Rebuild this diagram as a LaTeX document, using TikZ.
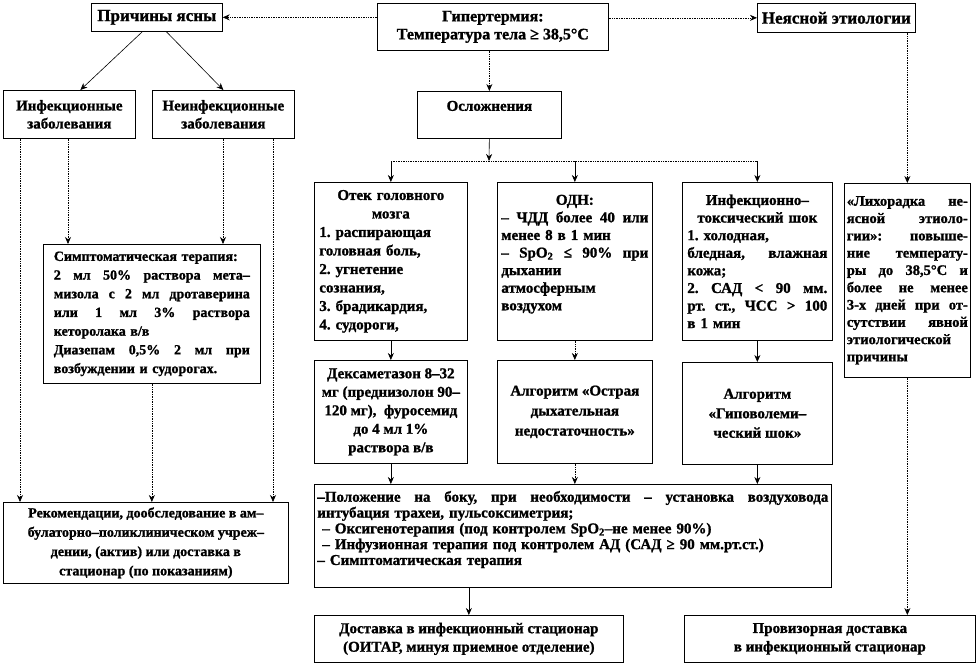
\documentclass[tikz,border=0pt]{standalone}
\usepackage{fontspec}
\setmainfont{Liberation Serif}[BoldFont={Liberation Serif Bold},BoldFeatures={FakeBold=1.2}]
\usetikzlibrary{arrows.meta,calc}
\newcommand{\jl}[1]{\leavevmode\hbox to \linewidth{\spaceskip=.25em plus 1fil minus .08em\relax #1}}
\newcommand{\cl}[1]{\makebox[\linewidth]{#1}}
\frenchspacing
\begin{document}
\begin{tikzpicture}[x=1pt,y=-1pt,
 box/.style={draw,line width=0.7pt,anchor=north west,inner sep=0pt,align=center,
   font=\bfseries\fontsize{15}{18.5}\selectfont},
 dotl/.style={line width=0.7pt,densely dotted},
 sol/.style={line width=0.6pt},
 arr/.style={-{Stealth[length=7pt,width=6pt]}}
]
\useasboundingbox (0,0) rectangle (977,667);

\node[box,minimum width=231,minimum height=47,font=\bfseries\fontsize{16}{18}\selectfont] (hyp) at (377,3) {Гипертермия:\\Температура тела ≥ 38,5°C};
\node[box,minimum width=131,minimum height=28,font=\bfseries\fontsize{17}{18}\selectfont] (clear) at (91,3) {Причины ясны};
\node[box,minimum width=158,minimum height=29,font=\bfseries\fontsize{17}{18}\selectfont] (unclear) at (757,3) {Неясной этиологии};
\node[box,minimum width=132,minimum height=48,font=\bfseries\fontsize{15}{18}\selectfont] (inf) at (3,90) {Инфекционные\\заболевания};
\node[box,minimum width=142,minimum height=48,font=\bfseries\fontsize{15}{18}\selectfont] (noninf) at (152,90) {Неинфекционные\\заболевания};
\node[box,minimum width=144,minimum height=47,font=\bfseries\fontsize{15}{18}\selectfont] (compl) at (417,91) {Осложнения\\\mbox{}};

\node[box,minimum width=217,minimum height=139,text width=196,align=left,
  font=\bfseries\fontsize{14}{18.7}\selectfont] (sympt) at (43,244)
 {Симптоматическая терапия:\\\jl{2 мл 50\% раствора мета–}\\\jl{мизола с 2 мл дротаверина}\\\jl{или 1 мл 3\% раствора}\\кеторолака в/в\\\jl{Диазепам 0,5\% 2 мл при}\\возбуждении и судорогах.};

\node[box,minimum width=285,minimum height=81,font=\bfseries\fontsize{14}{19.3}\selectfont] (rec) at (3,502)
 {Рекомендации, дообследование в ам–\\булаторно–поликлиническом учреж–\\дении, (актив) или доставка в\\стационар (по показаниям)};

\node[box,minimum width=153,minimum height=158,text width=143,align=left] (edema) at (314,182)
 {\cl{Отек головного}\\\cl{мозга}\\1. распирающая\\головная боль,\\2. угнетение\\сознания,\\3. брадикардия,\\4. судороги,};

\node[box,minimum width=155,minimum height=158,text width=147,align=left,
  font=\bfseries\fontsize{15}{17.6}\selectfont] (odn) at (497,182)
 {\cl{ОДН:}\\\jl{– ЧДД более 40 или}\\менее 8 в 1 мин\\\jl{– SpO\textsubscript{2} ≤ 90\% при}\\дыхании\\атмосферным\\воздухом\\\mbox{}};

\node[box,minimum width=150,minimum height=158,text width=140,align=left,
  font=\bfseries\fontsize{15}{17.6}\selectfont] (its) at (682,182)
 {\cl{Инфекционно–}\\\cl{токсический шок}\\1. холодная,\\\jl{бледная, влажная}\\кожа;\\\jl{2. САД < 90 мм.}\\\jl{рт. ст., ЧСС > 100}\\в 1 мин};

\node[box,minimum width=126,minimum height=194,text width=121,align=left,
  font=\bfseries\fontsize{14.5}{17.3}\selectfont] (fever) at (844,183)
 {\jl{«Лихорадка не-}\\\jl{ясной этиоло-}\\\jl{гии»: повыше-}\\\jl{ние температу-}\\\jl{ры до 38,5°С и}\\\jl{более не менее}\\\jl{3-х дней при от-}\\\jl{сутствии явной}\\этиологической\\причины};

\node[box,minimum width=153,minimum height=103] (dexa) at (314,360)
 {Дексаметазон 8–32\\мг (преднизолон 90–\\120 мг),\ \ фуросемид\\до 4 мл 1\%\\раствора в/в};
\node[box,minimum width=155,minimum height=103,font=\bfseries\fontsize{15}{20}\selectfont] (odnalg) at (497,360)
 {Алгоритм «Острая\\дыхательная\\недостаточность»};
\node[box,minimum width=150,minimum height=102,font=\bfseries\fontsize{15}{19.5}\selectfont] (hypalg) at (682,362)
 {Алгоритм\\«Гиповолеми–\\ческий шок»};

\node[box,minimum width=517,minimum height=103,text width=511,align=left,
  font=\bfseries\fontsize{15}{15.8}\selectfont] (main) at (314,484)
 {\jl{–Положение на боку, при необходимости – установка воздуховода}\\интубация трахеи, пульсоксиметрия;\\\hspace*{5pt}– Оксигенотерапия (под контролем SpO\textsubscript{2}–не менее 90\%)\\\hspace*{5pt}– Инфузионная терапия под контролем АД (САД ≥ 90 мм.рт.ст.)\\– Симптоматическая терапия\\\mbox{}};

\node[box,minimum width=309,minimum height=47] (deliv) at (314,615)
 {Доставка в инфекционный стационар\\(ОИТАР, минуя приемное отделение)};
\node[box,minimum width=291,minimum height=47] (prov) at (684,615)
 {Провизорная доставка\\в инфекционный стационар};

% coordinates
\coordinate (bus) at (489,161);
\coordinate (c1) at ([xshift=-14.5]clear.south);
\coordinate (c2) at ([xshift=9.5]clear.south);
\coordinate (t1) at ([xshift=11]inf.north);
\coordinate (i1) at ([xshift=17]inf.south west);
\coordinate (i2) at ([xshift=65]inf.south west);
\coordinate (n1) at ([xshift=71]noninf.south west);
\coordinate (n2) at ([xshift=121]noninf.south west);

% connectors
\draw[dotl,arr] (hyp.west |- clear.east) -- (clear.east);
\draw[dotl,arr] (hyp.east |- unclear.west) -- (unclear.west);
\draw[dotl,arr] (compl.north |- hyp.south) -- (compl.north);
\draw[sol,arr] (c1) -- (t1);
\draw[sol,arr] (c2) -- (noninf.north);
\draw[sol,arr] (compl.south) -- (bus);
\draw[dotl] (edema.north |- bus) -- (its.north |- bus);
\draw[sol,arr] (edema.north |- bus) -- (edema.north);
\draw[sol,arr] (odn.north |- bus) -- (odn.north);
\draw[sol,arr] (its.north |- bus) -- (its.north);
\draw[dotl,arr] (fever.north |- unclear.south) -- (fever.north);
\draw[dotl,arr] (fever.south) -- (fever.south |- prov.north);
\draw[dotl,arr] (i1) -- (i1 |- rec.north);
\draw[dotl,arr] (i2) -- (i2 |- sympt.north);
\draw[dotl,arr] (n1) -- (n1 |- sympt.north);
\draw[dotl,arr] (n2) -- (n2 |- rec.north);
\draw[dotl,arr] (sympt.south) -- (sympt.south |- rec.north);
\draw[sol,arr] (edema.south) -- (dexa.north);
\draw[dotl,arr] (odn.south) -- (odnalg.north);
\draw[sol,arr] (its.south) -- (hypalg.north);
\draw[sol,arr] (dexa.south) -- (dexa.south |- main.north);
\draw[dotl,arr] (odnalg.south) -- (odnalg.south |- main.north);
\draw[sol,arr] (hypalg.south) -- (hypalg.south |- main.north);
\draw[sol,arr] (deliv.north |- main.south) -- (deliv.north);
\end{tikzpicture}
\end{document}
